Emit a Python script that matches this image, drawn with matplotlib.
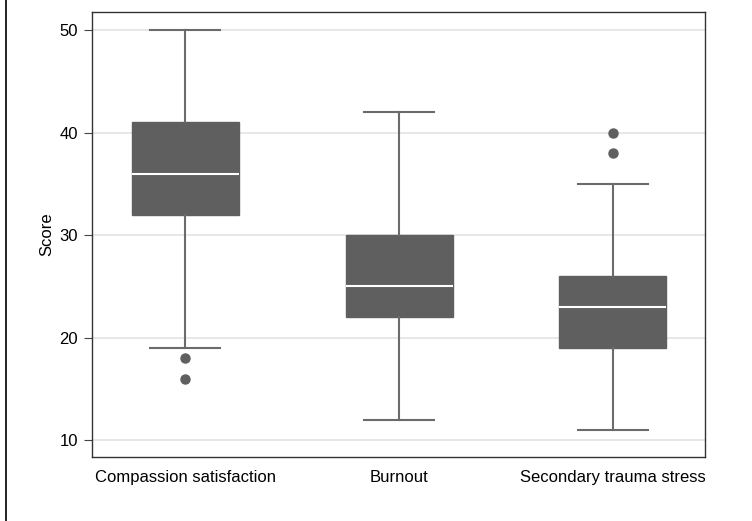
import matplotlib.pyplot as plt
from matplotlib.lines import Line2D

plt.rcParams['font.family'] = ['Liberation Sans', 'DejaVu Sans']

# box plot summary
groups = ['Compassion satisfaction', 'Burnout', 'Secondary trauma stress']
whislo = [19, 12, 11]
q1 = [32, 22, 19]
med = [36, 25, 23]
q3 = [41, 30, 26]
whishi = [50, 42, 35]
outliers = [[18, 16], [], [40, 38]]

stats = []
for i in range(len(groups)):
    stats.append(dict(label=groups[i], whislo=whislo[i], q1=q1[i], med=med[i],
                      q3=q3[i], whishi=whishi[i], fliers=outliers[i]))

fig = plt.figure(figsize=(7.52, 5.21), dpi=100)
ax = fig.add_axes([0.1223, 0.1228, 0.9375 - 0.1223, 0.977 - 0.1228])

box_c = '#5f5f5f'
line_c = '#6b6b6b'
ax.bxp(stats, positions=[1, 2, 3], widths=0.5, patch_artist=True,
       boxprops=dict(facecolor=box_c, edgecolor=box_c, linewidth=1),
       medianprops=dict(color='white', linewidth=1.5),
       whiskerprops=dict(color=line_c, linewidth=1.5),
       capprops=dict(color=line_c, linewidth=1.5), capwidths=0.33,
       flierprops=dict(marker='o', markerfacecolor=box_c, markeredgecolor=box_c,
                       markersize=6.5))

ax.set_xlim(0.565, 3.43)
ax.set_ylim(8.34, 51.76)
ax.set_yticks([10, 20, 30, 40, 50])
ax.yaxis.grid(True, color='#e3e3e3', linewidth=1.2)
ax.set_axisbelow(True)
ax.tick_params(axis='y', labelsize=12, length=6, color='#444444', pad=4)
ax.tick_params(axis='x', labelsize=12, length=0, pad=9)
for s in ax.spines.values():
    s.set_color('#333333')
    s.set_linewidth(1)
ax.set_ylabel('Score', fontsize=12, labelpad=4)

fig.add_artist(Line2D([6 / 752, 6 / 752], [0, 1], color='black', linewidth=1.2))

fig.savefig('out.png', dpi=100)
